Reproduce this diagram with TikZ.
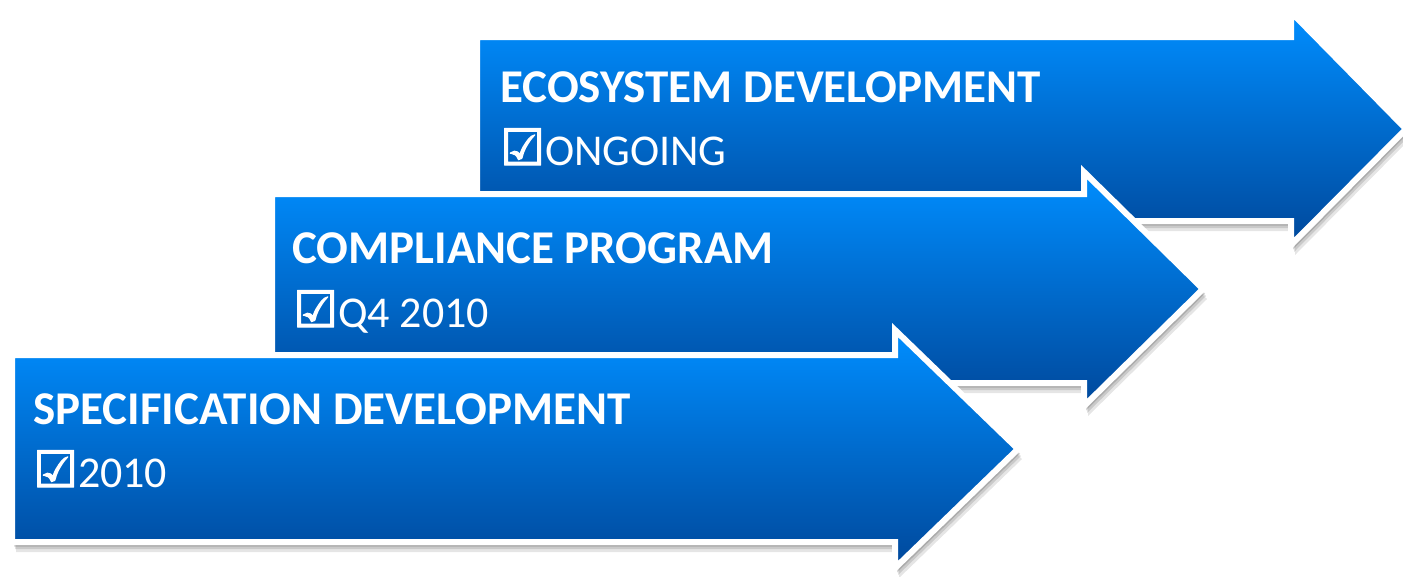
\documentclass[tikz,border=0pt]{standalone}
\usepackage{fontspec}
\setmainfont{Carlito}
\newfontfamily\symfont[FakeBold=2.5]{DejaVu Sans}
\usetikzlibrary{shadows}
\definecolor{arrowtop}{RGB}{0,142,255}
\definecolor{arrowbot}{RGB}{0,72,155}
\tikzset{
  steparrow/.style={top color=arrowtop, bottom color=arrowbot, draw=white, line width=6pt, line join=miter,
    drop shadow={shadow xshift=4pt, shadow yshift=-10pt, opacity=0.10, fill=black},
    drop shadow={shadow xshift=3pt, shadow yshift=-7pt, opacity=0.12, fill=black},
    drop shadow={shadow xshift=2pt, shadow yshift=-4.5pt, opacity=0.15, fill=black}},
  headtext/.style={anchor=base west, inner sep=0pt, text=white, font=\fontsize{47}{50}\selectfont\bfseries},
  subtext/.style={anchor=base west, inner sep=0pt, text=white, font=\fontsize{44}{46}\selectfont},
}
\newcommand{\chkbox}{{\symfont\fontsize{50}{50}\selectfont ☑}}
\begin{document}
\begin{tikzpicture}[x=1pt,y=-1pt]
\useasboundingbox (0,0) rectangle (1403,576);
% top arrow
\path[steparrow] (477,37) -- (1291,37) -- (1291,12) -- (1406,129) -- (1291,245) -- (1291,221) -- (477,221) -- cycle;
\node[headtext] (eco) at (500,102) {ECOSYSTEM DEVELOPMENT};
\node[subtext] (ecos) at (500,165) {\chkbox ONGOING};
% middle arrow
\path[steparrow] (272,194) -- (1084,194) -- (1084,172) -- (1203,289) -- (1084,406) -- (1084,383) -- (272,383) -- cycle;
\node[headtext] (comp) at (292,263) {COMPLIANCE PROGRAM};
\node[subtext] (comps) at (293,327) {\chkbox Q4 2010};
% bottom arrow
\path[steparrow] (12,355) -- (895,355) -- (895,330) -- (1018,449) -- (895,568) -- (895,542) -- (12,542) -- cycle;
\node[headtext] (spec) at (33,424) {SPECIFICATION DEVELOPMENT};
\node[subtext] (specs) at (33,487) {\chkbox 2010};
\end{tikzpicture}
\end{document}
